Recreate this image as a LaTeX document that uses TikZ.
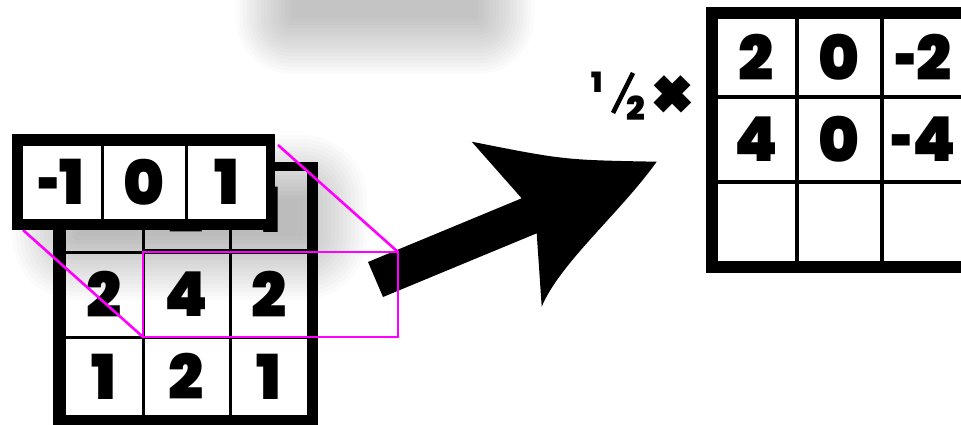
\documentclass[tikz,border=0pt]{standalone}
\usepackage{graphicx}
\usepackage{fontspec}
\setmainfont{Poppins}[BoldFont={Poppins Black}]
\definecolor{mag}{HTML}{FF00FF}
\newcommand{\shortminus}{\scalebox{0.62}[1]{-}\kern-0.02em}
\tikzset{
  x=1pt, y=-1pt,
  frame/.style={fill=black, draw=none, inner sep=0pt, outer sep=0pt},
  cell/.style={fill=white, draw=none, inner sep=0pt, outer sep=0pt,
    font=\fontsize{62}{62}\selectfont\bfseries},
  glass/.style={draw=mag, line width=2.6pt, inner sep=0pt, outer sep=0pt},
  glassline/.style={draw=mag, line width=2.6pt},
}
\begin{document}
\begin{tikzpicture}
\useasboundingbox (0,0) rectangle (961,425);
% blurred shadow at the top
\foreach \i in {0,...,16}{
  \pgfmathsetmacro{\e}{56*\i/16}
  \fill[black, opacity=0.0175, rounded corners=\e pt]
    (292-\e,-80) rectangle (478+\e,18+\e);
}
% image matrix
\node[frame, minimum width=265pt, minimum height=265pt] (img) at (185.5,294.5) {};
\node[cell, minimum width=75.5pt, minimum height=77.5pt] (i11) at (103.75,211.75) {};
\node[cell, minimum width=84pt,   minimum height=77.5pt] (i12) at (186.5,209.75) {2};
\node[cell, minimum width=75.5pt, minimum height=77.5pt] (i13) at (269.25,209.75) {1};
\node[cell, minimum width=75.5pt, minimum height=82pt] (i21) at (103.75,294.5) {2};
\node[cell, minimum width=84pt,   minimum height=82pt] (i22) at (186.5,294.5) {4};
\node[cell, minimum width=75.5pt, minimum height=82pt] (i23) at (269.25,294.5) {2};
\node[cell, minimum width=75.5pt, minimum height=76.5pt] (i31) at (103.75,376.75) {1};
\node[cell, minimum width=84pt,   minimum height=76.5pt] (i32) at (186.5,376.75) {2};
\node[cell, minimum width=75.5pt, minimum height=76.5pt] (i33) at (269.25,376.75) {1};
% shadow of the kernel
\foreach \i in {0,...,16}{
  \pgfmathsetmacro{\e}{64*\i/16}
  \fill[black, opacity=0.0175, rounded corners=\e pt]
    (76-\e,199-\e) rectangle (303+\e,236+\e);
}
% arrow
\fill[black] (368,262) -- (521.7,198.3) -- (471.7,141.7)
  .. controls (564,160) .. (656.7,161.7)
  .. controls (620,213) and (560,263) .. (541.7,306.7)
  -- (536.7,233.3) -- (383,297) -- cycle;
% magnifier
\coordinate (kTR) at (278,145);
\coordinate (kBL) at (23,230);
\node[glass, minimum width=255pt, minimum height=85pt] (win) at (270.5,294.5) {};
\draw[glassline] (kTR) -- (win.north east);
\draw[glassline] (kBL) -- (win.south west);
% kernel
\node[frame, minimum width=263pt, minimum height=96pt] (kern) at (143.5,182) {};
\node[cell, minimum width=77.5pt, minimum height=72.5pt] (k1) at (61.75,182.25) {\shortminus1};
\node[cell, minimum width=81.5pt, minimum height=72.5pt] (k2) at (144.25,182.25) {0};
\node[cell, minimum width=77.5pt, minimum height=72.5pt] (k3) at (226.75,182.25) {1};
% output matrix
\node[frame, minimum width=269pt, minimum height=266pt] (out) at (840.5,140) {};
\node[cell, minimum width=77pt, minimum height=76pt] (o11) at (756.5,57) {2};
\node[cell, minimum width=81pt, minimum height=76pt] (o12) at (839.5,57) {0};
\node[cell, minimum width=79pt, minimum height=76pt] (o13) at (923.5,57) {\shortminus2};
\node[cell, minimum width=77pt, minimum height=81pt] (o21) at (756.5,139.5) {4};
\node[cell, minimum width=81pt, minimum height=81pt] (o22) at (839.5,139.5) {0};
\node[cell, minimum width=79pt, minimum height=81pt] (o23) at (923.5,139.5) {\shortminus4};
\node[cell, minimum width=77pt, minimum height=77pt] (o31) at (756.5,222.5) {};
\node[cell, minimum width=81pt, minimum height=77pt] (o32) at (839.5,222.5) {};
\node[cell, minimum width=79pt, minimum height=77pt] (o33) at (923.5,222.5) {};
% one half times
\node[inner sep=0pt, font=\fontsize{28}{28}\selectfont\bfseries] (one) at (597,82.5) {1};
\node[inner sep=0pt, font=\fontsize{33}{33}\selectfont\bfseries] (two) at (636,108.5) {2};
\coordinate (s1) at (613,113);
\coordinate (s2) at (633,73);
\draw[line width=4.5pt] (s1) -- (s2);
\node[inner sep=0pt, font=\fontsize{70}{70}\selectfont\bfseries] (times) at (672.5,97.5) {×};
\end{tikzpicture}
\end{document}
